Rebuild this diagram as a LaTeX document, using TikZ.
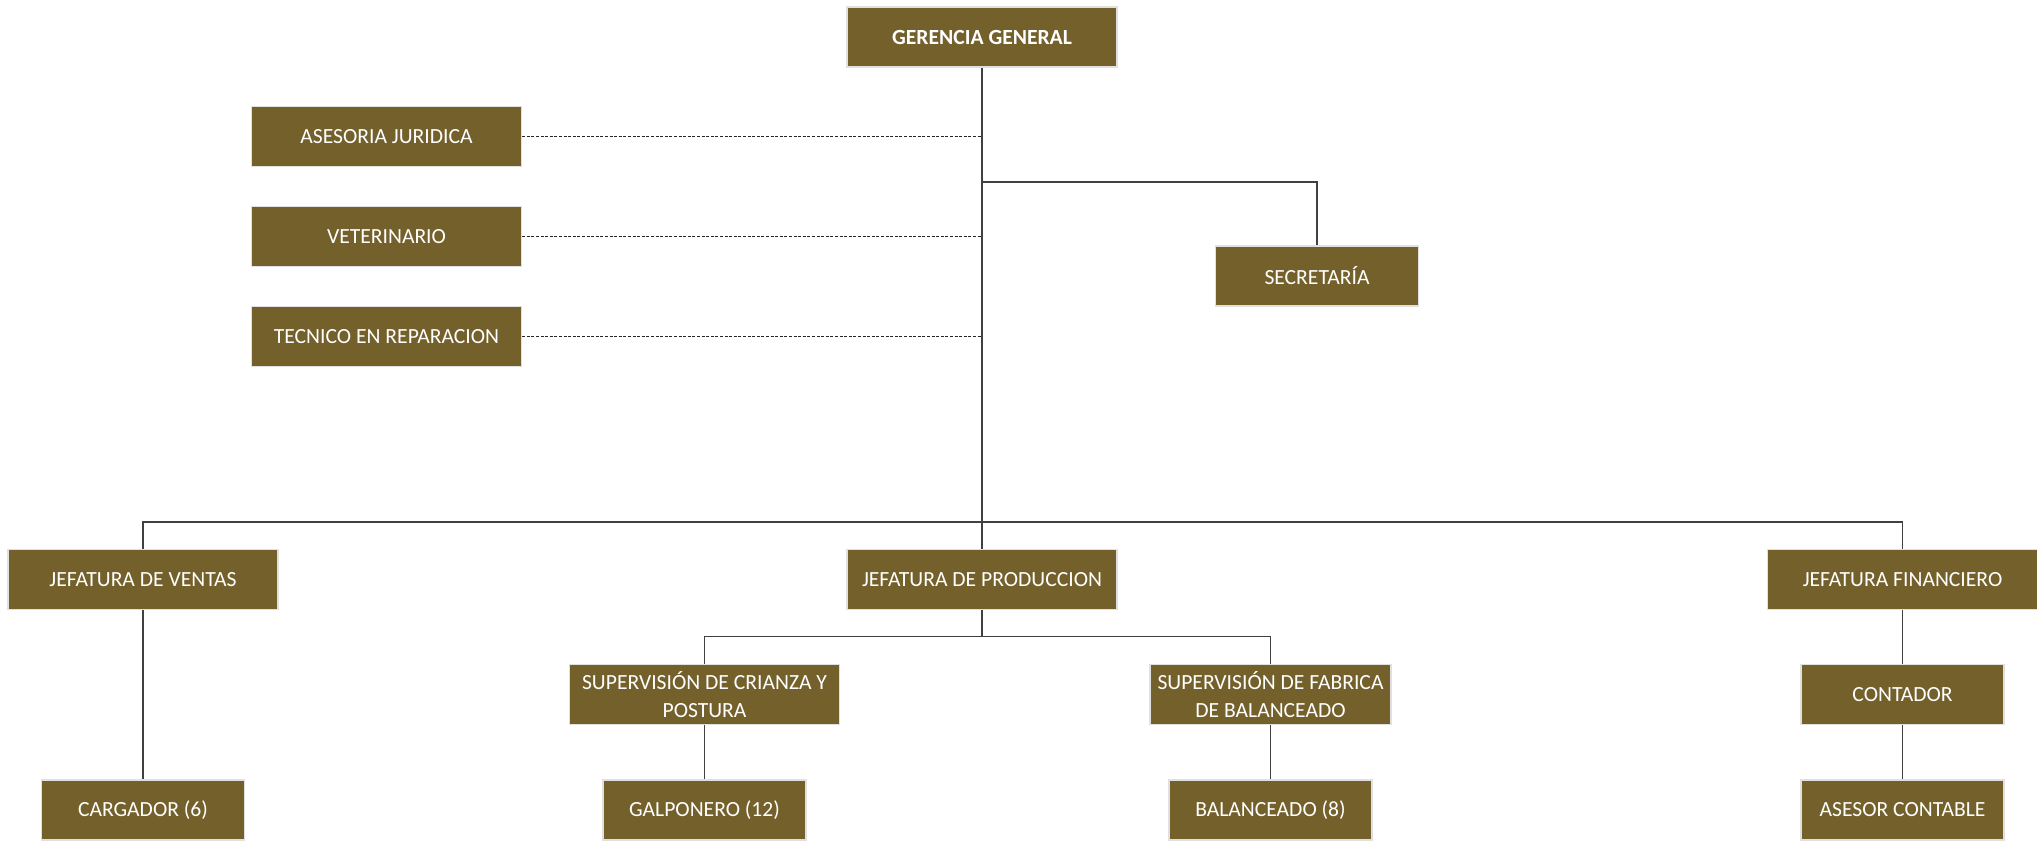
\documentclass[tikz,border=0pt]{standalone}
\usepackage{fontspec}
\setmainfont{Carlito}
\usepackage{tikz}

\definecolor{oliva}{RGB}{116,96,43}
\definecolor{linea}{RGB}{64,64,64}

\tikzset{
	cargo/.style={fill=oliva, draw=black!12, line width=0.6pt, text=white, align=center,
		minimum height=30pt, inner sep=0pt, font=\fontsize{10.8}{14}\selectfont},
	ancho/.style={cargo, minimum width=135pt},
	medio/.style={cargo, minimum width=120.5pt},
	corto/.style={cargo, minimum width=101.5pt},
	enlace/.style={draw=linea, line width=0.6pt},
	asesor/.style={draw=black!85, line width=0.7pt, dash pattern=on 1.5pt off 0.8pt}
}

\begin{document}
\begin{tikzpicture}[x=0.5pt,y=-0.5pt]
	\useasboundingbox (0,0) rectangle (2037,841);
	% nivel 0
	\node[ancho, font=\fontsize{10.8}{14}\selectfont\bfseries] (gg) at (982,37) {GERENCIA GENERAL};
	% staff
	\node[ancho] (aj) at (386.5,136.5) {ASESORIA JURIDICA};
	\node[ancho] (vet) at (386.5,236.5) {VETERINARIO};
	\node[ancho] (tec) at (386.5,336.5) {TECNICO EN REPARACION};
	\node[corto] (sec) at (1317,276) {SECRETARÍA};
	% jefaturas
	\node[ancho] (jv) at (143,579.5) {JEFATURA DE VENTAS};
	\node[ancho] (jp) at (982,579.5) {JEFATURA DE PRODUCCION};
	\node[ancho] (jf) at (1902.5,579.5) {JEFATURA FINANCIERO};
	% supervision
	\node[ancho] (scp) at (704.5,694.5) {SUPERVISIÓN DE CRIANZA Y\\POSTURA};
	\node[medio] (sfb) at (1270.5,694.5) {SUPERVISIÓN DE FABRICA\\DE BALANCEADO};
	\node[corto] (cont) at (1902.5,694.5) {CONTADOR};
	% operarios
	\node[corto] (carg) at (143,810) {CARGADOR (6)};
	\node[corto] (galp) at (704.5,810) {GALPONERO (12)};
	\node[corto] (bal) at (1270.5,810) {BALANCEADO (8)};
	\node[corto] (asc) at (1902.5,810) {ASESOR CONTABLE};

	\coordinate (ramsec) at (982,182);
	\coordinate (bus) at (982,522);
	\coordinate (busprod) at (982,636.5);

	\draw[enlace] (gg.south) -- (jp.north);
	\draw[asesor] (aj.east) -- (aj.east -| gg.south);
	\draw[asesor] (vet.east) -- (vet.east -| gg.south);
	\draw[asesor] (tec.east) -- (tec.east -| gg.south);
	\draw[enlace] (ramsec) -| (sec.north);
	\draw[enlace] (jv.north) |- (bus) -| (jf.north);
	\draw[enlace] (jp.south) -- (busprod);
	\draw[enlace] (scp.north) |- (busprod) -| (sfb.north);
	\draw[enlace] (jv.south) -- (carg.north);
	\draw[enlace] (scp.south) -- (galp.north);
	\draw[enlace] (sfb.south) -- (bal.north);
	\draw[enlace] (jf.south) -- (cont.north);
	\draw[enlace] (cont.south) -- (asc.north);
\end{tikzpicture}
\end{document}
